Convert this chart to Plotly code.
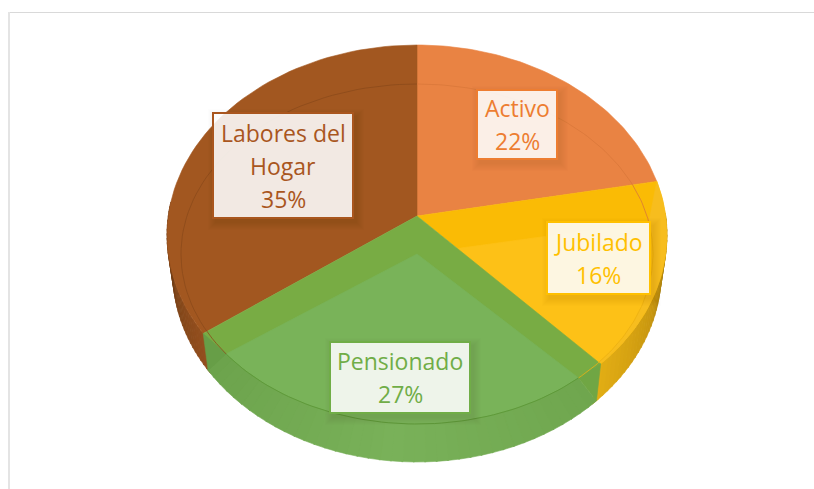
import math
import plotly.graph_objects as go

categories = ["Activo", "Jubilado", "Pensionado", "Labores del<br>Hogar"]
shares = [22, 16, 27, 35]

top_colors = ["#E98343", "#FABB05", "#78AC44", "#A25720"]
text_colors = ["#ED7D31", "#FFC000", "#70AD47", "#A9561E"]
boxes = [(477, 90, 557, 159), (547, 222, 650, 294), (330, 342, 470, 413), (213, 113, 353, 218)]

W, H = 814, 489
CX = 417
TOP = (216, 248.7, 188.1, -0.1)
BOTTOM = (253, 243, 188.1, -0.1)
RING = (254, 236, 170, 0.0)


def proj(theta, m):
    cy, c, b, k = m
    u, v = math.sin(math.radians(theta)), -math.cos(math.radians(theta))
    d = 1 + k * v
    return CX + c * u / d, cy + b * v / d


def arc(t0, t1, m, n=60):
    return [proj(t0 + (t1 - t0) * i / n, m) for i in range(n + 1)]


def lerp(a, b, t):
    ca = [int(a[i:i + 2], 16) for i in (1, 3, 5)]
    cb = [int(b[i:i + 2], 16) for i in (1, 3, 5)]
    return "#" + "".join(f"{round(x + (y - x) * t):02X}" for x, y in zip(ca, cb))


fig = go.Figure()


def poly(pts, color):
    fig.add_trace(go.Scatter(x=[p[0] for p in pts] + [pts[0][0]], y=[p[1] for p in pts] + [pts[0][1]],
                             mode="lines", fill="toself", fillcolor=color,
                             line=dict(color=color, width=0.6), hoverinfo="skip", showlegend=False))


def curve(pts, color, width=1.0):
    fig.add_trace(go.Scatter(x=[p[0] for p in pts], y=[p[1] for p in pts], mode="lines",
                             line=dict(color=color, width=width), hoverinfo="skip", showlegend=False))


def wall(t0, t1, inner, outer, colors, n=30):
    for i in range(n):
        a, b = t0 + (t1 - t0) * i / n, t0 + (t1 - t0) * (i + 1) / n
        t = (i + 0.5) / n
        if t < 0.5:
            col = lerp(colors[0], colors[1], t * 2)
        else:
            col = lerp(colors[1], colors[2], (t - 0.5) * 2)
        poly(arc(a, b + 0.3, inner, 4) + arc(b + 0.3, a, outer, 4), col)


edges = [0]
for s in shares:
    edges.append(edges[-1] + s * 3.6)
apex = (CX, TOP[0])
apex_low = (CX, RING[0])

# outer walls under the faces
wall(edges[1] + 10, edges[2] + 1, TOP, BOTTOM, ["#8A6A10", "#C8960F", "#E3AE15"])
wall(edges[3] - 1, edges[3] + 40, TOP, BOTTOM, ["#95501F", "#7E4418", "#5E3310"])

# orange, brown and yellow faces
poly([apex] + arc(edges[0], edges[1], TOP), top_colors[0])
poly([apex] + arc(edges[3], edges[4], TOP), top_colors[3])
poly([apex] + arc(edges[1], edges[2], TOP), top_colors[1])

# yellow: lit base and rim strip
poly(arc(edges[1], edges[2], RING) + arc(edges[2], edges[1], TOP), "#F7BD1E")
poly([apex_low] + arc(edges[1], edges[2], RING), "#FDC117")

# green face comes over the yellow base
poly([apex] + arc(edges[2], edges[3], TOP), top_colors[2])

# green: lit base and translucent wall
poly([apex_low] + arc(edges[2], edges[3], RING), "#79B359")
wall(edges[2], edges[3], RING, BOTTOM, ["#6FA64E", "#79B159", "#6CA34C"], n=40)
poly([proj(edges[2], TOP), proj(edges[2], RING), proj(edges[2], BOTTOM)], "#70A644")
poly([proj(edges[3], TOP), proj(edges[3], RING), proj(edges[3], BOTTOM)], "#679E47")

# faint rim lines
curve(arc(edges[2], edges[3], RING), "#5F9A3A", 1.0)
curve(arc(edges[3], edges[4], RING), "#8C4A1B", 0.8)
curve(arc(edges[0], edges[1], RING), "#D9773A", 0.8)
curve(arc(edges[1], edges[2], RING), "#EBB013", 0.8)

# frame of the chart area
shapes = [
    dict(type="line", xref="x", yref="y", x0=8, x1=W, y0=12.5, y1=12.5, line=dict(color="#D9D9D9", width=1)),
    dict(type="line", xref="x", yref="y", x0=9, x1=9, y0=12, y1=H, line=dict(color="#E4E4E4", width=2)),
]
annotations = []
for i, (x0, y0, x1, y1) in enumerate(boxes):
    for g in range(8, 0, -1):
        shapes.append(dict(type="rect", xref="x", yref="y", x0=x0 + 3 - g, x1=x1 + 3 + g, y0=y0 + 4 - g, y1=y1 + 4 + g,
                           fillcolor="rgba(0,0,0,0.007)", line=dict(width=0)))
    shapes.append(dict(type="rect", xref="x", yref="y", x0=x0, x1=x1, y0=y0, y1=y1,
                       fillcolor="rgba(255,255,255,0.88)", line=dict(color=text_colors[i], width=2)))
    lines = categories[i].split("<br>") + [f"{shares[i]}%"]
    cy = (y0 + y1) / 2
    for j, line in enumerate(lines):
        annotations.append(dict(x=(x0 + x1) / 2, y=cy + (j - (len(lines) - 1) / 2) * 33, xref="x", yref="y", text=line,
                                showarrow=False, xanchor="center", yanchor="middle",
                                font=dict(family="Open Sans", size=23, color=text_colors[i])))

fig.update_layout(width=W, height=H, margin=dict(l=0, r=0, t=0, b=0), paper_bgcolor="white", plot_bgcolor="white",
                  xaxis=dict(range=[0, W], visible=False, fixedrange=True),
                  yaxis=dict(range=[H, 0], visible=False, fixedrange=True),
                  shapes=shapes, annotations=annotations, showlegend=False)
fig.write_html("out.html", config={"displayModeBar": False},
               post_script="document.body.style.margin='0';document.documentElement.style.overflow='hidden';")
